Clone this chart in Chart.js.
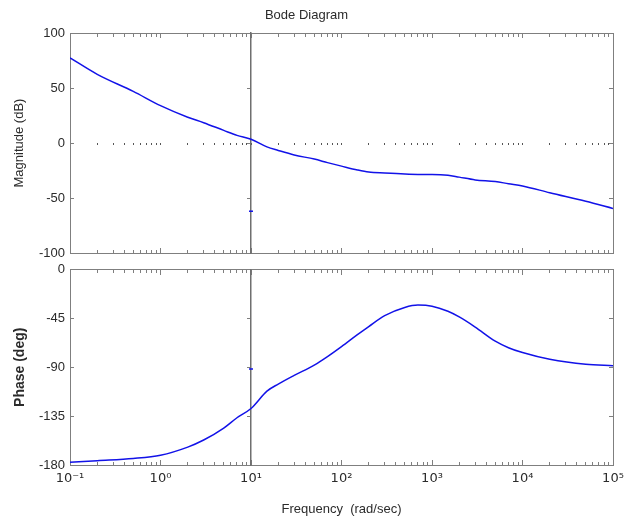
<!DOCTYPE html>
<html>
<head>
<meta charset="utf-8">
<title>Bode Diagram</title>
<script src="https://cdn.jsdelivr.net/npm/chart.js@4.4.1/dist/chart.umd.min.js"></script>
<style>
    html, body { margin: 0; padding: 0; background: #fff; }
    #wrap { position: relative; width: 636px; height: 522px; }
    .panel { position: absolute; left: 0; }
</style>
</head>
<body>
<div id="wrap">
    <canvas id="magChart" class="panel" style="top:0" width="636" height="260"></canvas>
    <canvas id="phaseChart" class="panel" style="top:260px" width="636" height="262"></canvas>
</div>
<script>
// frequencies (rad/sec)
const freq = [0.1, 0.2, 0.5, 1, 2, 3, 5, 7, 10, 15, 20, 30, 50, 70, 100, 150, 200, 300, 500, 700,
    1000, 1500, 2000, 3000, 5000, 7000, 1e4, 2e4, 5e4, 1e5];
// magnitude (dB)
const magDb = [77.5, 62.5, 47, 34, 23.5, 18.5, 11.5, 7, 3.5, -3.5, -6.7, -10.8, -14.6, -17.8, -21, -24.5, -26.4, -27.3, -28.2, -28.5,
    -28.5, -29.2, -31, -33.5, -35, -37, -39, -45.2, -53, -59.5];
// phase (deg)
const phaseDeg = [-177.5, -176, -174, -171, -163.5, -157, -146, -136.5, -128, -112, -105.5, -97.5, -88, -80.2, -71, -60, -52.5, -42.5, -35, -32.8,
    -33.8, -38.5, -43.7, -53, -66, -72, -76.5, -82.7, -87.3, -88.6];

// stray markers on the 10 rad/sec line
const magMarker = [{ x: 10, y: -62 }];
const phaseMarker = [{ x: 10, y: -91.5 }];

const freqRange = { min: 0.1, max: 1e5 };
const magRange = { min: -100, max: 100, step: 50 };
const phaseRange = { min: -180, max: 0, step: 45 };
const crossFreq = 10;

const frameColor = '#7f7f7f';
const textColor = '#2b2b2b';
const lineColor = '#1212e8';
const fontFamily = '"Liberation Sans", Arial, sans-serif';

const sup = { '-': '\u207B', '0': '\u2070', '1': '\u00B9', '2': '\u00B2', '3': '\u00B3', '4': '\u2074', '5': '\u2075' };

function isDecade(v) {
    const e = Math.log10(v);
    return Math.abs(e - Math.round(e)) < 1e-6;
}

function decadeLabel(v) {
    if (!isDecade(v)) return '';
    return '10' + String(Math.round(Math.log10(v))).split('').map(c => sup[c]).join('');
}

// only 1..9 x 10^n, drop the 15, 150 ... steps chart.js adds
function keepDecadeTicks(scale) {
    scale.ticks = scale.ticks.filter(t => {
        const m = t.value / Math.pow(10, Math.floor(Math.log10(t.value) + 1e-9));
        return Math.abs(m - Math.round(m)) < 1e-6;
    });
}

function keepMajorTicks(scale) {
    scale.ticks = scale.ticks.filter(t => isDecade(t.value));
}

function tickAxis(base, axis, position, len, showBorder, step) {
    const ax = Object.assign({}, base, {
        axis: axis,
        position: position,
        grid: { drawOnChartArea: false, drawTicks: true, tickLength: len, tickColor: frameColor, tickWidth: 1 },
        border: { display: showBorder, color: frameColor, width: 1 },
        ticks: { display: false }
    });
    if (step) ax.ticks.stepSize = step;
    return ax;
}

function buildScales(yRange, cfg) {
    const logX = { type: 'logarithmic', min: freqRange.min, max: freqRange.max, afterBuildTicks: keepDecadeTicks };
    const logMajor = Object.assign({}, logX, { afterBuildTicks: keepMajorTicks });
    const linY = { type: 'linear', min: yRange.min, max: yRange.max };

    const scales = {
        x: Object.assign({}, logX, {
            position: 'bottom',
            grid: { drawOnChartArea: false, drawTicks: false },
            border: { color: frameColor, width: 1 },
            ticks: {
                display: cfg.showX, autoSkip: false, maxRotation: 0, padding: 6,
                color: textColor, font: { family: '"DejaVu Sans", sans-serif', size: 13 },
                callback: v => decadeLabel(v)
            },
            title: {
                display: cfg.showX, text: 'Frequency  (rad/sec)', color: textColor,
                font: { family: fontFamily, size: 13 }, padding: { top: 0, bottom: 5 }
            },
            afterFit: s => { s.height = cfg.xHeight; }
        }),
        y: Object.assign({}, linY, {
            position: 'left',
            grid: { drawOnChartArea: false, drawTicks: false },
            border: { color: frameColor, width: 1 },
            ticks: { stepSize: yRange.step, padding: 5, color: textColor, font: { family: fontFamily, size: 13 } },
            title: {
                display: true, text: cfg.yTitle, color: textColor,
                font: { family: fontFamily, size: cfg.yTitleSize, weight: cfg.yTitleWeight }, padding: { top: 12, bottom: 0 }
            },
            afterFit: s => { s.width = 70; s.paddingTop = 0; s.paddingBottom = 0; }
        }),
        // inward ticks on the frame: minor 3px, decades 5px
        xTop: tickAxis(logX, 'x', { y: yRange.max }, 3, true),
        xTopMajor: tickAxis(logMajor, 'x', { y: yRange.max }, 5, false),
        xIn: tickAxis(logX, 'x', { y: yRange.min }, -3, false),
        xInMajor: tickAxis(logMajor, 'x', { y: yRange.min }, -5, false),
        yRight: tickAxis(linY, 'y', { x: freqRange.max }, 4, true, yRange.step),
        yIn: tickAxis(linY, 'y', { x: freqRange.min }, -4, false, yRange.step),
        yCross: tickAxis(linY, 'y', { x: crossFreq }, 3, true, yRange.step)
    };
    scales.yCross.border.color = '#6f6f6f';
    scales.yCross.border.width = 1.5;
    if (cfg.zeroRow) {
        scales.xZero = tickAxis(logX, 'x', { y: 0 }, 2, false);
        scales.xZero.grid.tickColor = '#555';
    }
    return scales;
}

function buildDatasets(values, marker) {
    return [
        {
            data: freq.map((f, i) => ({ x: f, y: values[i] })),
            borderColor: lineColor, borderWidth: 1.5,
            pointRadius: 0, cubicInterpolationMode: 'monotone',
            xAxisID: 'x', yAxisID: 'y'
        },
        {
            data: marker, showLine: false,
            pointStyle: 'line', pointRadius: 2, borderColor: lineColor, borderWidth: 1.5,
            xAxisID: 'x', yAxisID: 'y'
        }
    ];
}

Chart.defaults.font.family = fontFamily;

new Chart(document.getElementById('magChart'), {
    type: 'line',
    data: { datasets: buildDatasets(magDb, magMarker) },
    options: {
        responsive: false,
        animation: false,
        layout: { padding: { left: 0, right: 23, top: 0, bottom: 7 } },
        plugins: {
            legend: { display: false },
            tooltip: { enabled: false },
            title: {
                display: true, text: 'Bode Diagram', color: textColor,
                font: { family: fontFamily, size: 13, weight: 'normal' },
                padding: { top: 8, bottom: 9.5 }
            }
        },
        scales: buildScales(magRange, {
            showX: false, xHeight: 0, zeroRow: true,
            yTitle: 'Magnitude (dB)', yTitleSize: 13, yTitleWeight: 'normal'
        })
    }
});

new Chart(document.getElementById('phaseChart'), {
    type: 'line',
    data: { datasets: buildDatasets(phaseDeg, phaseMarker) },
    options: {
        responsive: false,
        animation: false,
        layout: { padding: { left: 0, right: 23, top: 9.5, bottom: 0 } },
        plugins: {
            legend: { display: false },
            tooltip: { enabled: false }
        },
        scales: buildScales(phaseRange, {
            showX: true, xHeight: 57, zeroRow: false,
            yTitle: 'Phase (deg)', yTitleSize: 14, yTitleWeight: 'bold'
        })
    }
});
</script>
</body>
</html>
